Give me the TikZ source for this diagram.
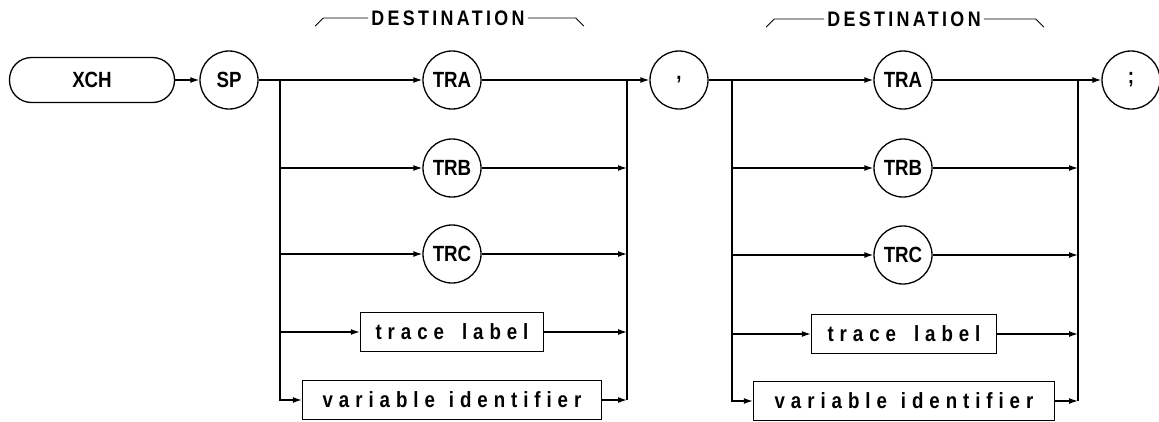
\documentclass[tikz,border=0pt]{standalone}
\usepackage{fontspec}
\setmainfont{Liberation Sans}
\newfontfamily\plotfont[FakeStretch=0.85]{Liberation Sans}
\newfontfamily\plotcaps[FakeStretch=0.85,LetterSpace=16]{Liberation Sans}
\newfontfamily\plotspaced[FakeStretch=0.85,LetterSpace=27]{Liberation Sans}
\usetikzlibrary{arrows.meta}
\tikzset{
  conn/.style={line width=1.3pt},
  arr/.style={conn,-{Latex[length=9pt,width=6pt]}},
  term/.style={circle,draw,line width=1.3pt,minimum size=58pt,inner sep=0pt,
    font=\plotfont\bfseries\fontsize{22}{22}\selectfont},
  xchbox/.style={rectangle,rounded corners=22pt,draw,line width=1.3pt,
    minimum width=165pt,minimum height=45pt,inner sep=0pt,
    font=\plotfont\bfseries\fontsize{22}{22}\selectfont},
  lbox/.style={rectangle,draw,line width=1.3pt,minimum height=39pt,inner sep=0pt,
    font=\plotspaced\bfseries\fontsize{22}{22}\selectfont},
  dest/.style={inner sep=3pt,font=\plotcaps\bfseries\fontsize{21}{21}\selectfont},
  bracket/.style={line width=0.9pt}
}
\begin{document}
\begin{tikzpicture}[x=1pt,y=-1pt]
\useasboundingbox (0,0) rectangle (1159,421);
% labels
\node[dest] (d1) at (448,18) {DESTINATION};
\draw[bracket] (d1.west) -- ++(-45,0) -- ++(-8,8);
\draw[bracket] (d1.east) -- ++(48,0) -- ++(8,8);
\node[dest] (d2) at (904,19) {DESTINATION};
\draw[bracket] (d2.west) -- ++(-50,0) -- ++(-8,8);
\draw[bracket] (d2.east) -- ++(52,0) -- ++(8,8);
% nodes
\node[xchbox] (xch) at (92,80) {XCH};
\node[term] (sp) at (229,80) {SP};
\node[term] (tra1) at (452,80) {TRA};
\node[term] (trb1) at (452,168) {TRB};
\node[term] (trc1) at (452,254) {TRC};
\node[lbox,minimum width=183pt] (tl1) at (452,332) {trace\hspace{18pt}label};
\node[lbox,minimum width=299pt] (vi1) at (452,400) {variable\hspace{14pt}identifier};
\node[term] (comma) at (679,80) {,};
\node[term] (tra2) at (903,80) {TRA};
\node[term] (trb2) at (903,168) {TRB};
\node[term] (trc2) at (903,255) {TRC};
\node[lbox,minimum width=185pt] (tl2) at (904,334) {trace\hspace{18pt}label};
\node[lbox,minimum width=301pt] (vi2) at (904,401) {variable\hspace{14pt}identifier};
\node[term] (semi) at (1131,80) {;};
\coordinate (s1) at (280,80);
\coordinate (m1) at (627,80);
\coordinate (s2) at (732,80);
\coordinate (m2) at (1078,80);
% first group
\draw[arr] (xch) -- (sp);
\draw[arr] (sp) -- (tra1);
\draw[arr] (s1) |- (vi1);
\draw[arr] (s1 |- trb1) -- (trb1);
\draw[arr] (s1 |- trc1) -- (trc1);
\draw[arr] (s1 |- tl1) -- (tl1);
\draw[arr] (trb1) -- (m1 |- trb1);
\draw[arr] (trc1) -- (m1 |- trc1);
\draw[arr] (tl1) -- (m1 |- tl1);
\draw[arr] (vi1) -- (m1 |- vi1);
\draw[conn] (m1 |- vi1) -- (m1);
\draw[arr] (tra1) -- (comma);
% second group
\draw[arr] (comma) -- (tra2);
\draw[arr] (s2) |- (vi2);
\draw[arr] (s2 |- trb2) -- (trb2);
\draw[arr] (s2 |- trc2) -- (trc2);
\draw[arr] (s2 |- tl2) -- (tl2);
\draw[arr] (trb2) -- (m2 |- trb2);
\draw[arr] (trc2) -- (m2 |- trc2);
\draw[arr] (tl2) -- (m2 |- tl2);
\draw[arr] (vi2) -- (m2 |- vi2);
\draw[conn] (m2 |- vi2) -- (m2);
\draw[arr] (tra2) -- (semi);
\end{tikzpicture}
\end{document}
